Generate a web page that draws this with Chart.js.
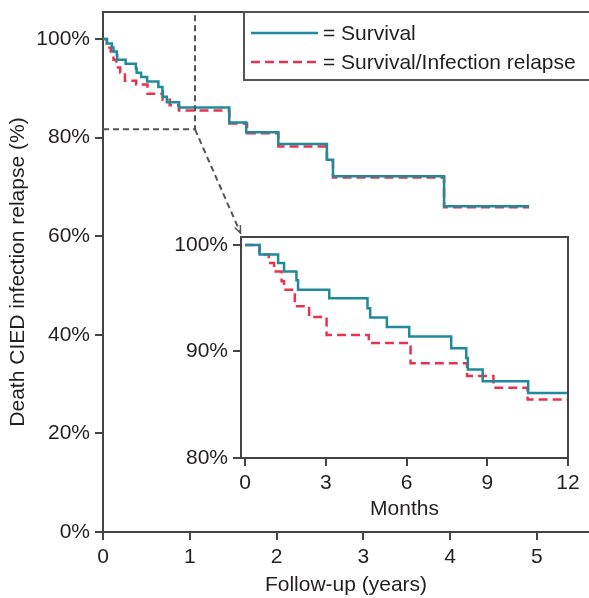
<!DOCTYPE html>
<html><head><meta charset="utf-8">
<script src="https://cdn.jsdelivr.net/npm/chart.js@4/dist/chart.umd.min.js"></script>
<style>
html,body{margin:0;padding:0;background:#fff;}
#wrap{position:relative;width:589px;height:598px;overflow:hidden;}
canvas{position:absolute;left:0;top:0;}
</style></head><body>
<div id="wrap"><canvas id="main" width="589" height="598"></canvas><canvas id="inset" width="589" height="598"></canvas></div>
<script>
// ---------- data ----------
const seriesNames = ['Survival', 'Survival/Infection relapse'];
// first 12 months (inset), time in months, value in %
const survivalMonths = [0, 0.54, 1.23, 1.45, 1.91, 1.97, 3.13, 4.55, 4.65, 5.27, 6.10, 7.66, 8.22, 8.28, 8.83, 10.52, 12];
const survivalFirstYear = [100, 99.1, 98.3, 97.5, 96.7, 95.8, 95.0, 94.05, 93.2, 92.3, 91.4, 90.3, 89.4, 88.3, 87.2, 86.1, 86.1];
const relapseMonths = [0, 0.54, 0.88, 1.08, 1.36, 1.45, 1.85, 2.38, 3.03, 4.60, 6.15, 8.25, 9.23, 10.50, 12];
const relapseFirstYear = [100, 99.1, 98.3, 97.5, 96.6, 95.8, 94.25, 93.25, 91.55, 90.8, 88.9, 87.7, 86.6, 85.5, 85.5];
// after the first year, time in years
const survivalYears = [1.455, 1.65, 2.02, 2.58, 2.65, 3.93, 4.91];
const survivalLater = [83.1, 81.1, 78.7, 75.5, 72.2, 66.1, 66.1];
const relapseYears = [1.455, 1.66, 2.02, 2.58, 2.65, 3.93, 4.91];
const relapseLater = [82.9, 80.9, 78.2, 75.3, 71.9, 65.9, 65.9];
// ticks
const mainXTicks = [0, 1, 2, 3, 4, 5];
const mainYTicks = [0, 20, 40, 60, 80, 100];
const insetXTicks = [0, 3, 6, 9, 12];
const insetYTicks = [80, 90, 100];
// zoom window shown in inset (years, %)
const zoomWindow = {x0: 0, x1: 1.06, y0: 81.7};

// ---------- style ----------
const FONT = {family: '"Liberation Sans", Arial, Helvetica, sans-serif', size: 21};
const TEXT = '#231f20';
const AXIS = '#444444';
const TEAL = '#1e8a9a';
const RED = '#e8334f';
const DASH = [9, 5];

function pts(t, v, f) { return t.map((x, i) => ({x: f ? f(x) : x, y: v[i]})); }
const mainSurvival = pts(survivalMonths, survivalFirstYear, m => m / 12).concat(pts(survivalYears, survivalLater));
const mainRelapse = pts(relapseMonths, relapseFirstYear, m => m / 12).concat(pts(relapseYears, relapseLater));

function ds(label, data, color, dash) {
  return {label, data, borderColor: color, borderWidth: 2.5, borderDash: dash || [], stepped: 'before',
          pointRadius: 0, fill: false, tension: 0};
}
function axisCommon(ticksArr, fmt) {
  return {
    type: 'linear',
    afterBuildTicks: s => { s.ticks = ticksArr.map(v => ({value: v})); },
    grid: {drawOnChartArea: false, drawTicks: true, tickLength: 8, color: AXIS, lineWidth: 2},
    border: {display: true, color: AXIS, width: 2},
    ticks: {font: FONT, color: TEXT, padding: 5, maxRotation: 0, autoSkip: false, callback: fmt}
  };
}
function noPad(s) { s.paddingTop = 0; s.paddingBottom = 0; s.paddingLeft = 0; s.paddingRight = 0; }

const mainDecor = {
  id: 'mainDecor',
  afterDraw(chart) {
    const c = chart.ctx, a = chart.chartArea, xs = chart.scales.x, ys = chart.scales.y;
    c.save();
    // top frame
    c.strokeStyle = AXIS; c.lineWidth = 2;
    c.beginPath(); c.moveTo(a.left, a.top); c.lineTo(a.right, a.top); c.stroke();
    // zoom box
    const bx1 = xs.getPixelForValue(zoomWindow.x1), by1 = ys.getPixelForValue(zoomWindow.y0);
    c.setLineDash([6, 4]); c.strokeStyle = '#555'; c.lineWidth = 2;
    c.beginPath(); c.moveTo(a.left, by1); c.lineTo(bx1, by1); c.lineTo(bx1, a.top); c.stroke();
    // arrow to inset
    const ax = 240.5, ay = 233;
    c.beginPath(); c.moveTo(bx1, by1); c.lineTo(ax, ay); c.stroke();
    c.setLineDash([]); c.lineWidth = 1.5;
    const ang = Math.atan2(ay - by1, ax - bx1);
    c.beginPath();
    c.moveTo(ax - 8 * Math.cos(ang - 0.4), ay - 8 * Math.sin(ang - 0.4)); c.lineTo(ax, ay);
    c.lineTo(ax - 8 * Math.cos(ang + 0.4), ay - 8 * Math.sin(ang + 0.4)); c.stroke();
    // legend box
    const L = 244, T = 12, R = 590, B = 80;
    c.fillStyle = '#fff'; c.fillRect(L, T, R - L, B - T);
    c.strokeStyle = '#555'; c.lineWidth = 2;
    c.strokeRect(L, T, R - L, B - T);
    const rows = [33, 62];
    chart.data.datasets.forEach((d, i) => {
      c.strokeStyle = d.borderColor; c.lineWidth = 2.5; c.setLineDash(d.borderDash || []);
      c.beginPath(); c.moveTo(251, rows[i]); c.lineTo(318, rows[i]); c.stroke();
      c.setLineDash([]);
      c.fillStyle = TEXT; c.font = FONT.size + 'px ' + FONT.family; c.textBaseline = 'middle'; c.textAlign = 'left';
      c.fillText('= ' + d.label, 323, rows[i] + 1);
    });
    c.restore();
  }
};

new Chart(document.getElementById('main'), {
  type: 'line',
  data: {datasets: [ds(seriesNames[0], mainSurvival, TEAL), ds(seriesNames[1], mainRelapse, RED, DASH)]},
  options: {
    responsive: false, animation: false,
    layout: {padding: {left: 0, right: 0, top: 12, bottom: 0}},
    plugins: {legend: {display: false}, tooltip: {enabled: false}},
    scales: {
      x: Object.assign(axisCommon(mainXTicks, v => String(v)), {
        min: 0, max: 5.6, afterFit: s => { s.height = 66; noPad(s); },
        title: {display: true, text: 'Follow-up (years)', font: FONT, color: TEXT, padding: {top: 0, bottom: 0}}
      }),
      y: Object.assign(axisCommon(mainYTicks, v => v + '%'), {
        min: 0, max: 105.5, afterFit: s => { s.width = 103; noPad(s); },
        title: {display: true, text: 'Death CIED infection relapse (%)', font: FONT, color: TEXT, padding: {top: 6, bottom: 0}}
      })
    }
  },
  plugins: [mainDecor]
});

const insetDecor = {
  id: 'insetDecor',
  beforeDraw(chart) {
    const c = chart.ctx, a = chart.chartArea;
    c.save(); c.fillStyle = '#fff'; c.fillRect(a.left, a.top, a.right - a.left, a.bottom - a.top); c.restore();
  },
  afterDraw(chart) {
    const c = chart.ctx, a = chart.chartArea;
    c.save(); c.strokeStyle = AXIS; c.lineWidth = 2;
    c.beginPath(); c.moveTo(a.left, a.top); c.lineTo(a.right, a.top); c.lineTo(a.right, a.bottom); c.stroke();
    c.restore();
  }
};

new Chart(document.getElementById('inset'), {
  type: 'line',
  data: {datasets: [ds(seriesNames[0], pts(survivalMonths, survivalFirstYear), TEAL),
                    ds(seriesNames[1], pts(relapseMonths, relapseFirstYear), RED, DASH)]},
  options: {
    responsive: false, animation: false,
    layout: {padding: {left: 151, right: 21, top: 237, bottom: 76}},
    plugins: {legend: {display: false}, tooltip: {enabled: false}},
    scales: {
      x: Object.assign(axisCommon(insetXTicks, v => String(v)), {
        min: -0.15, max: 12, afterFit: s => { s.height = 64; noPad(s); },
        title: {display: true, text: 'Months', font: FONT, color: TEXT, padding: {top: 4, bottom: 0}}
      }),
      y: Object.assign(axisCommon(insetYTicks, v => v + '%'), {
        min: 80, max: 100.75, afterFit: s => { s.width = 90; noPad(s); }
      })
    }
  },
  plugins: [insetDecor]
});
</script>
</body></html>
